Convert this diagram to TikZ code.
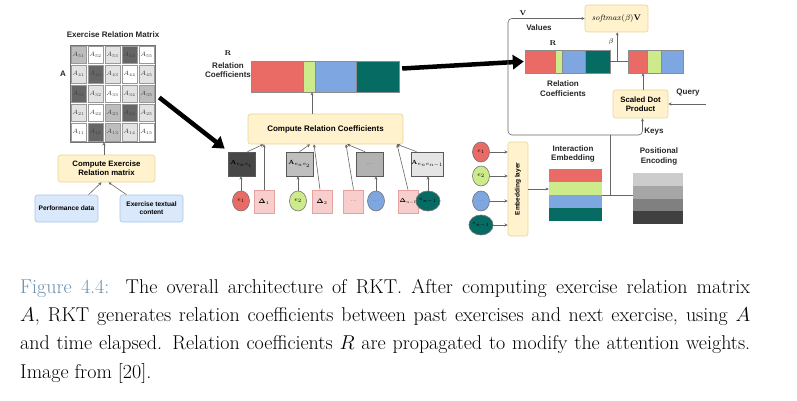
\RequirePackage{fix-cm}
\documentclass[tikz,border=0pt]{standalone}
\usepackage[no-math]{fontspec}
\usetikzlibrary{arrows.meta,shapes.geometric,calc}
\newfontfamily\dsf{Liberation Sans}
\definecolor{cred}{HTML}{EA6B66}
\definecolor{cgreen}{HTML}{CDEB8B}
\definecolor{cblue}{HTML}{7EA6E0}
\definecolor{cteal}{HTML}{066B63}
\definecolor{pfill}{HTML}{F8CECC}
\definecolor{pline}{HTML}{E3A3A1}
\definecolor{yfill}{HTML}{FFF2CC}
\definecolor{yline}{HTML}{E8D596}
\definecolor{bfill}{HTML}{DAE8FC}
\definecolor{bline}{HTML}{A9C4EB}
\definecolor{mw}{HTML}{FFFFFF}
\definecolor{ml}{HTML}{E3E3E3}
\definecolor{mm}{HTML}{BDBDBD}
\definecolor{md}{HTML}{666666}
\definecolor{capblue}{HTML}{6A8FAD}
\definecolor{lgray}{HTML}{666666}
\begin{document}
\begin{tikzpicture}[x=1pt,y=-1pt,
  lbl/.style={font=\dsf\bfseries\fontsize{8}{9.5}\selectfont, text=black!85, align=center, inner sep=0},
  ybox/.style={draw=yline, fill=yfill, rounded corners=2.5pt, line width=0.6pt, inner sep=0, align=center},
  bbox/.style={draw=bline, fill=bfill, rounded corners=2.5pt, line width=0.6pt, inner sep=0, align=center, font=\dsf\bfseries\fontsize{6.6}{8}\selectfont},
  pbox/.style={draw=pline, fill=pfill, line width=0.6pt, inner sep=0, minimum width=20pt, minimum height=23pt, font=\fontsize{6.5}{7}\selectfont},
  abox/.style={draw=black!65, line width=0.7pt, inner sep=0, minimum width=27pt, minimum height=24pt, font=\fontsize{6}{7}\selectfont},
  circ/.style={ellipse, draw=black!55, line width=0.6pt, inner sep=0, minimum width=17pt, minimum height=20pt, font=\fontsize{6}{7}\selectfont},
  cell/.style={draw=black!40, line width=0.4pt, minimum width=15pt, minimum height=17.4pt, inner sep=0, font=\fontsize{6.3}{7}\selectfont, text=black!75},
  seg/.style={draw=black!45, line width=0.4pt},
  conn/.style={draw=lgray, line width=0.6pt, -{Stealth[length=3.2pt,width=3pt]}},
  gline/.style={draw=lgray, line width=0.6pt},
  bigarr/.style={line width=4.5pt, black, -{Triangle[length=11pt,width=14pt]}}
]
\useasboundingbox (0,0) rectangle (797,401);

% ---------------- Exercise relation matrix ----------------
\node[lbl] (mtitle) at (113,35) {Exercise Relation Matrix};
\node[lbl] (alab) at (63,74) {A};
\foreach \i/\j/\c in {1/1/m,1/2/w,1/3/l,1/4/d,1/5/w,
                      2/1/l,2/2/d,2/3/l,2/4/w,2/5/l,
                      3/1/d,3/2/l,3/3/w,3/4/l,3/5/m,
                      4/1/l,4/2/w,4/3/m,4/4/d,4/5/l,
                      5/1/w,5/2/d,5/3/m,5/4/l,5/5/w}{
  \pgfmathtruncatemacro{\rr}{6-\i}
  \node[cell, fill=m\c] (m-\i-\j) at ({70+17*(\j-0.5)},{45+19.4*(\i-0.5)}) {$A_{\rr\j}$};
}
\node[draw=black!55, line width=0.6pt, minimum width=85pt, minimum height=97pt, inner sep=0] (mat) at (112.5,93.5) {};

\node[ybox, minimum width=97pt, minimum height=27pt, font=\dsf\bfseries\fontsize{7.8}{9.3}\selectfont] (cer) at (106.5,168.5) {Compute Exercise\\Relation matrix};
\node[bbox, minimum width=63pt, minimum height=27pt] (perf) at (66.5,208.5) {Performance data};
\node[bbox, minimum width=63pt, minimum height=27pt] (etext) at (151.5,208.5) {Exercise textual\\content};
\draw[conn] ([xshift=22pt]perf.north) -- ([xshift=-5pt]cer.south);
\draw[conn] ([xshift=-25pt]etext.north) -- ([xshift=2pt]cer.south);
\draw[conn] ([xshift=-2.5pt]cer.north) -- ([xshift=-2.5pt]cer.north |- mat.south);

% ---------------- Middle: relation coefficients ----------------
\node[font=\fontsize{7}{8}\selectfont, inner sep=0] (rlab1) at (228,53) {$\mathbf{R}$};
\node[lbl] (rc1) at (228,70) {Relation\\Coefficients};
\node[inner sep=0, minimum width=148pt, minimum height=31pt] (bar1) at (325,76.5) {};
\fill[cred]   (251,61) rectangle (303,92);
\fill[cgreen] (303,61) rectangle (315,92);
\fill[cblue]  (315,61) rectangle (356,92);
\fill[cteal]  (356,61) rectangle (399,92);
\draw[seg] (303,61) -- (303,92) (315,61) -- (315,92) (356,61) -- (356,92);
\draw[seg] (bar1.north west) rectangle (bar1.south east);

\node[ybox, minimum width=155pt, minimum height=30pt, font=\dsf\bfseries\fontsize{8}{9.5}\selectfont] (crc) at (325.5,129) {Compute Relation Coefficients};
\draw[conn] ([xshift=-13.5pt]crc.north) -- ([xshift=-13.5pt]crc.north |- bar1.south);

\node[abox, fill=black!72] (a1) at (241.5,164) {$\mathbf{A}_{e_ne_1}$};
\node[abox, fill=black!25] (a2) at (299.5,164) {$\mathbf{A}_{e_ne_2}$};
\node[abox, fill=black!30, text=black!60] (a3) at (370,164) {...};
\node[abox, fill=black!10] (a4) at (427.5,164) {$\mathbf{A}_{e_ne_{n-1}}$};

\node[circ, fill=cred] (e1) at (241,201) {$e_1$};
\node[pbox] (d1) at (264,201.5) {$\mathbf{\Delta}_1$};
\node[circ, fill=cgreen] (e2) at (298,201) {$e_2$};
\node[pbox] (d2) at (322,201.5) {$\mathbf{\Delta}_2$};
\node[pbox, text=black!60] (dd) at (353.5,201.5) {...};
\node[circ, fill=cblue, text=black!60] (eb) at (376,201) {...};
\node[pbox, font=\fontsize{5.5}{6}\selectfont] (dn) at (408,201.5) {$\mathbf{\Delta}_{n-1}$};
\node[circ, fill=cteal, font=\fontsize{5}{6}\selectfont] (en) at (428,201) {$e_{n-1}$};

\foreach \c/\a in {e1/a1,e2/a2,eb/a3,en/a4}{
  \draw[conn] (\c.north) -- (\c.north |- \a.south);
}
\draw[conn] (d1.north) -- (d1.north |- crc.south);
\draw[conn] ([xshift=6pt]a1.north) -- ([xshift=-62pt]crc.south);
\draw[conn] ([xshift=-2pt]d2.north) -- ([xshift=-11.5pt]crc.south);
\draw[conn] (a2.north) -- ([xshift=-15.5pt]crc.south);
\draw[conn] (dd.north) -- ([xshift=20.5pt]crc.south);
\draw[conn] ([xshift=-5pt]a3.north) -- ([xshift=21.5pt]crc.south);
\draw[conn] (dn.north) -- ([xshift=71.5pt]crc.south);
\draw[conn] ([xshift=-11pt]a4.north) -- ([xshift=71.5pt]crc.south);

% big arrow
\draw[bigarr] ([shift={(4pt,-4pt)}]mat.east) -- ([shift={(-3pt,3pt)}]a1.north west);

% ---------------- Right part ----------------
\node[ybox, minimum width=63pt, minimum height=27pt, font=\fontsize{8}{9}\selectfont] (sm) at (616.5,18.5) {$\mathit{softmax}(\beta)\mathbf{V}$};
\node[font=\fontsize{7}{8}\selectfont, inner sep=0] (vlab) at (523,13) {$\mathbf{V}$};
\node[lbl] (vals) at (539,28) {Values};
\node[font=\fontsize{7}{8}\selectfont, inner sep=0] (rlab2) at (553,43) {$\mathbf{R}$};

\node[inner sep=0, minimum width=85pt, minimum height=23pt] (bar2) at (567.5,61.5) {};
\fill[cred]   (525,50) rectangle (555,73);
\fill[cgreen] (555,50) rectangle (562,73);
\fill[cblue]  (562,50) rectangle (585,73);
\fill[cteal]  (585,50) rectangle (610,73);
\draw[seg] (555,50) -- (555,73) (562,50) -- (562,73) (585,50) -- (585,73);
\draw[seg] (bar2.north west) rectangle (bar2.south east);
\node[lbl] (rc2) at (563,88.5) {Relation\\Coefficients};

\node[inner sep=0, minimum width=55pt, minimum height=23pt] (bar3) at (655.5,61.5) {};
\fill[cred]   (628,50) rectangle (647,73);
\fill[cgreen] (647,50) rectangle (661,73);
\fill[cblue]  (661,50) rectangle (683,73);
\draw[seg] (647,50) -- (647,73) (661,50) -- (661,73);
\draw[seg] (bar3.north west) rectangle (bar3.south east);

\draw[bigarr] ([shift={(3pt,8pt)}]bar1.east) -- ([xshift=-1pt]bar2.west);

\draw[gline] (bar2.east) -- (bar3.west);
\coordinate (bj) at ([xshift=7pt]bar2.east);
\draw[conn] (bj) -- (bj |- sm.south);
\node[font=\fontsize{7}{8}\selectfont, inner sep=0] (beta) at (611,42) {$\beta$};

\node[ybox, minimum width=55pt, minimum height=28pt, font=\dsf\bfseries\fontsize{7.8}{9.3}\selectfont] (sdp) at (640.5,104) {Scaled Dot\\Product};
\draw[conn] ([xshift=2.5pt]sdp.north) -- ([xshift=2.5pt]sdp.north |- bar3.south);
\coordinate (qq) at (706,104);
\draw[conn] (qq) -- (sdp.east);
\node[lbl] (qlab) at (688,93) {Query};
\node[lbl] (klab) at (654,132) {Keys};

% embedding part
\node[circ, fill=cred] (c1) at (481,152) {$e_1$};
\node[circ, fill=cgreen] (c2) at (481,176) {$e_2$};
\node[circ, fill=cblue, text=black!60] (c3) at (481,201) {...};
\node[circ, fill=cteal, font=\fontsize{5}{6}\selectfont] (c4) at (481,225) {$e_{n-1}$};
\node[ybox, minimum width=20pt, minimum height=94pt] (emb) at (518,189) {};
\node[rotate=90, font=\dsf\bfseries\fontsize{6.5}{7}\selectfont, inner sep=0] (embt) at (emb.center) {Embedding layer};
\foreach \c in {c1,c2,c3,c4}{
  \draw[conn] (\c.east) -- (\c.east -| emb.west);
}

\node[lbl] (ielab) at (573,154) {Interaction\\Embedding};
\node[inner sep=0, minimum width=53pt, minimum height=52pt] (ie) at (575.5,195) {};
\fill[cred]   (549,169) rectangle (602,182);
\fill[cgreen] (549,182) rectangle (602,195);
\fill[cblue]  (549,195) rectangle (602,208);
\fill[cteal]  (549,208) rectangle (602,221);

\node[lbl] (pelab) at (659,156.5) {Positional\\Encoding};
\node[inner sep=0, minimum width=50pt, minimum height=51pt] (pe) at (658,198.5) {};
\fill[black!20] (633,173) rectangle (683,185.75);
\fill[black!35] (633,185.75) rectangle (683,198.5);
\fill[black!50] (633,198.5) rectangle (683,211.25);
\fill[black!75] (633,211.25) rectangle (683,224);

\draw[conn] (emb.east) -- (emb.east -| ie.west);
\draw[gline] (ie.east) -- (ie.east -| pe.west);
\coordinate (kj) at (610,135);
\draw[gline] (kj) -- (kj |- ie.east);
\draw[conn, rounded corners=4pt] (kj) -| ([xshift=2pt]sdp.south);
\draw[conn, rounded corners=4pt] (kj) -- ++(-102,0) |- (sm.west);

% ---------------- Caption ----------------
\node[anchor=base west, inner sep=0, text width=730pt, align=justify, font=\fontsize{20}{28.2}\selectfont] (cap) at (20,293.5)
{{\color{capblue}Figure 4.4:}\hspace{0.1em} The overall architecture of RKT. After computing exercise relation matrix\linebreak
$A$, RKT generates relation coefficients between past exercises and next exercise, using $A$\linebreak
and time elapsed. Relation coefficients $R$ are propagated to modify the attention weights.\linebreak
Image from [20].};
\end{tikzpicture}
\end{document}
